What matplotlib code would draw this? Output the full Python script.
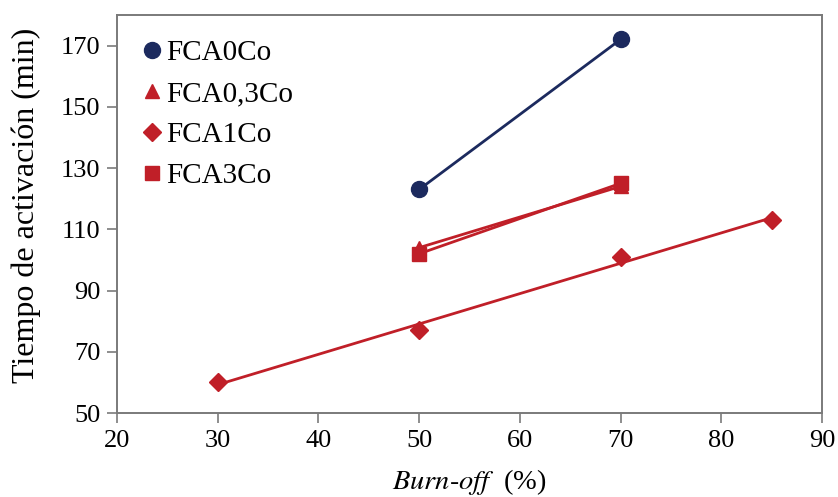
import numpy as np
import matplotlib
matplotlib.use("Agg")
import matplotlib.pyplot as plt

plt.rcParams['font.family'] = ['Liberation Serif', 'DejaVu Serif']
plt.rcParams['mathtext.fontset'] = 'stix'

# Data
x_0co = [50, 70]
y_0co = [123, 172]
x_03co = [50, 70]
y_03co = [104, 124]
x_1co = [30, 50, 70, 85]
y_1co = [60, 77, 101, 113]
x_3co = [50, 70]
y_3co = [102, 125]

labels = ["FCA0Co", "FCA0,3Co", "FCA1Co", "FCA3Co"]
xticks = [20, 30, 40, 50, 60, 70, 80, 90]
yticks = [50, 70, 90, 110, 130, 150, 170]

navy = "#1c2a5e"
red = "#c01f28"

fig = plt.figure(figsize=(8.38, 4.97), dpi=100)
ax = fig.add_axes([0.1396, 0.169, 0.8414, 0.801])

series = [
    (x_0co, y_0co, navy, 'o', 11.5),
    (x_03co, y_03co, red, '^', 10.5),
    (x_1co, y_1co, red, 'D', 9.5),
    (x_3co, y_3co, red, 's', 10),
]

for (xs, ys, c, m, ms), lab in zip(series, labels):
    xs = np.array(xs, float)
    ys = np.array(ys, float)
    p = np.polyfit(xs, ys, 1)
    xl = np.array([xs.min(), xs.max()])
    ax.plot(xl, np.polyval(p, xl), color=c, lw=2.0, zorder=2)
    ax.plot(xs, ys, ls='none', marker=m, ms=ms, color=c, mec=c, label=lab, zorder=3)

ax.set_xlim(20, 90)
ax.set_ylim(50, 180)
ax.set_xticks(xticks)
ax.set_yticks(yticks)
ax.tick_params(direction='out', length=7, width=1.2, color='#7a7a7a', labelsize=19,
               top=False, right=False)
ax.tick_params(axis='x', pad=5)
ax.tick_params(axis='y', pad=5)
for s in ax.spines.values():
    s.set_color('#7a7a7a')
    s.set_linewidth(1.4)

ax.set_xlabel(r"$\mathit{Burn\text{-}off}$  (%)", fontsize=20.5, labelpad=11)
ax.set_ylabel("Tiempo de activación (min)", fontsize=23)
ax.yaxis.set_label_coords(-0.108, 0.522)

leg = ax.legend(loc='upper left', bbox_to_anchor=(0.01, 0.982), frameon=False,
                fontsize=21, handlelength=0.7, handletextpad=0.15,
                labelspacing=0.5, borderaxespad=0.2)

fig.savefig("out.png", dpi=100)
